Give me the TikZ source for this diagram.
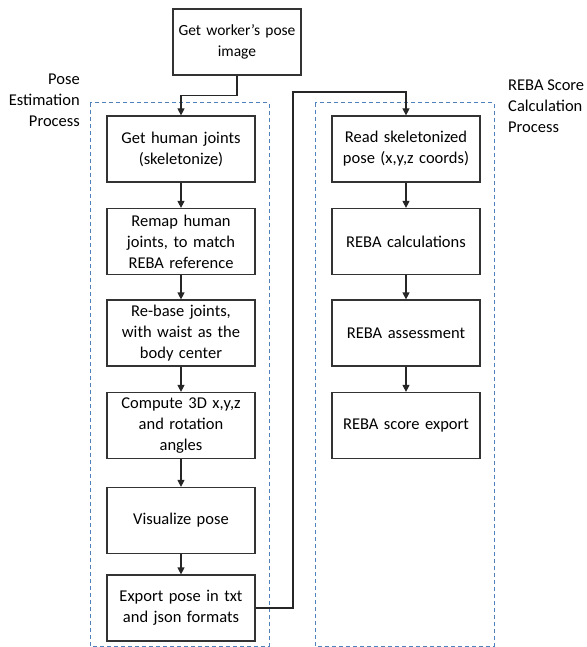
\documentclass[tikz,border=0pt]{standalone}
\usepackage{fontspec}
\setmainfont{Carlito}
\usetikzlibrary{arrows.meta}

\definecolor{groupblue}{RGB}{79,129,189}

\begin{document}
\begin{tikzpicture}[x=1pt,y=-1pt,
        stepbox/.style={draw=black!80, line width=1.2pt, minimum width=148pt,
            minimum height=66pt, text width=146pt, align=center, inner sep=0pt,
            font=\fontsize{16.5}{21}\selectfont},
        flow/.style={draw=black!85, line width=1.2pt, -{Triangle[length=7pt,width=7pt]}},
        groupbox/.style={draw=groupblue, line width=1pt, dash pattern=on 4pt off 3pt},
        grouplabel/.style={font=\fontsize{16.5}{21}\selectfont}]
        \useasboundingbox (0,0) rectangle (586,647);
        % process groups
        \draw[groupbox] (90,103) rectangle (269,646);
        \draw[groupbox] (315,103) rectangle (494,646);
        \node[grouplabel, align=right, anchor=east, inner sep=0pt] (posegroup) at (80,100)
            {Pose\\Estimation\\Process};
        \node[grouplabel, align=left, anchor=west, inner sep=0pt] (rebagroup) at (508,106)
            {REBA Score\\Calculation\\Process};
        % steps
        \node[stepbox, minimum width=128pt, text width=126pt,
            font=\fontsize{15.5}{21}\selectfont] (image) at (237,42)
            {Get worker’s pose\\image};
        \foreach \n/\y/\t in {1/149/{Get human joints\\(skeletonize)},
                2/241.5/{Remap human\\joints, to match\\REBA reference},
                3/333/{Re-base joints,\\with waist as the\\body center},
                4/425.5/{Compute 3D x,y,z\\and rotation\\angles},
                5/520.5/{Visualize pose},
                6/608/{Export pose in txt\\and json formats}} {
            \node[stepbox] (pose\n) at (181,\y) {\t};
        }
        \foreach \n/\y/\t in {1/149/{Read skeletonized\\pose (x,y,z coords)},
                2/241.5/{REBA calculations},
                3/333/{REBA assessment},
                4/425.5/{REBA score export}} {
            \node[stepbox] (reba\n) at (406,\y) {\t};
        }
        % connectors
        \draw[flow] (image.south) -- ++(0,20) -| (pose1.north);
        \foreach \a/\b in {1/2,2/3,3/4,4/5,5/6} {
            \draw[flow] (pose\a.south) -- (pose\b.north);
        }
        \foreach \a/\b in {1/2,2/3,3/4} {
            \draw[flow] (reba\a.south) -- (reba\b.north);
        }
        \coordinate (turn) at (293,92);
        \draw[flow] (pose6.east) -| (turn) -| (reba1.north);
\end{tikzpicture}
\end{document}
